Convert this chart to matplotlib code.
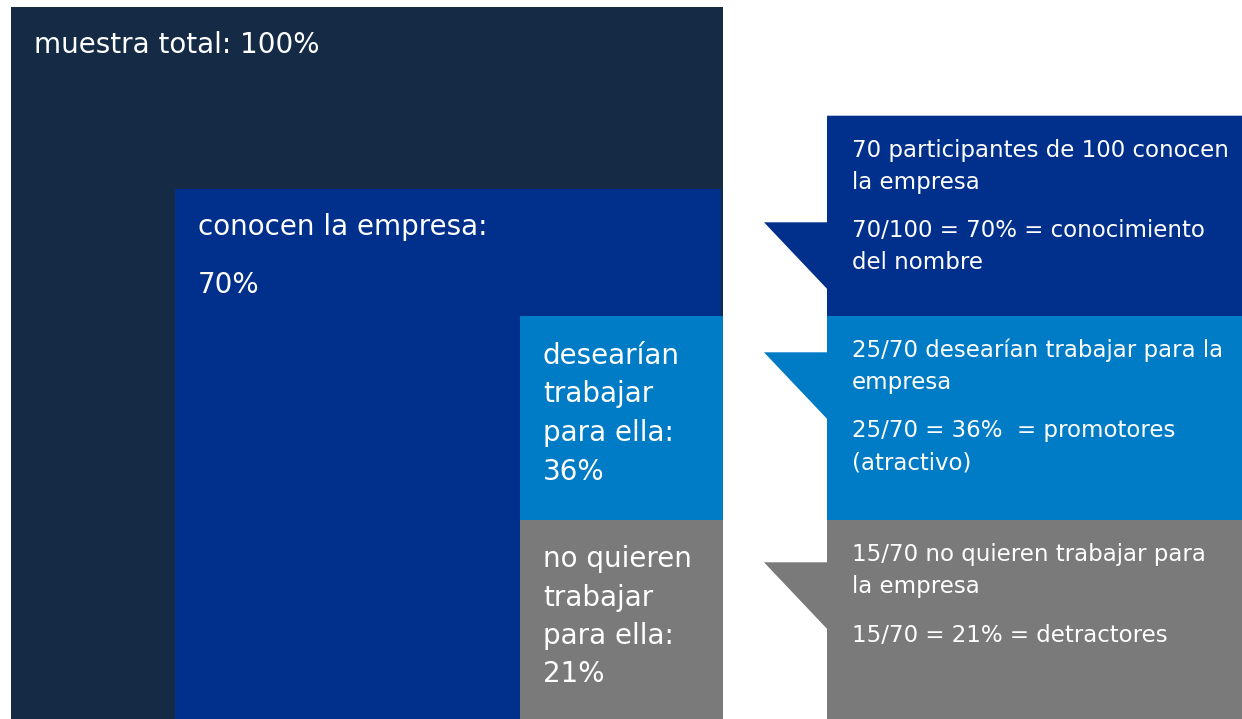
import matplotlib.pyplot as plt
from matplotlib.patches import Rectangle, Polygon

# ---------- values ----------
counts = [100, 70, 25, 15]          # total, know company, promoters, detractors
shares = [100, 70, 36, 21]          # % shown in the nested boxes

box_lines = [
    [f"muestra total: {shares[0]}%"],
    ["conocen la empresa:", f"{shares[1]}%"],
    ["desearían", "trabajar", "para ella:", f"{shares[2]}%"],
    ["no quieren", "trabajar", "para ella:", f"{shares[3]}%"],
]

callout_paras = [
    [[f"{counts[1]} participantes de {counts[0]} conocen", "la empresa"],
     [f"{counts[1]}/{counts[0]} = {shares[1]}% = conocimiento", "del nombre"]],
    [[f"{counts[2]}/{counts[1]} desearían trabajar para la", "empresa"],
     [f"{counts[2]}/{counts[1]} = {shares[2]}%  = promotores", "(atractivo)"]],
    [[f"{counts[3]}/{counts[1]} no quieren trabajar para", "la empresa"],
     [f"{counts[3]}/{counts[1]} = {shares[3]}% = detractores"]],
]

# ---------- style / layout (pixels) ----------
NAVY = "#142a45"
BLUE = "#00308c"
LIGHT = "#007bc6"
GREY = "#7a7a7a"

W, H = 1242, 719

# x0, y0, x1, y1, colour, text x, first baseline, line step
boxes = [
    (11, 7, 723, H, NAVY, 34, 53, 38),
    (175, 189, 721, H, BLUE, 198, 235, 58),
    (520, 316, 723, 520, LIGHT, 543, 364, 38.5),
    (520, 520, 723, H, GREY, 543, 567, 38.5),
]

# top, bottom, pointer y, colour
callouts = [
    (115.7, 316, 222.3, BLUE),
    (316, 520, 352.3, LIGHT),
    (520, H, 562.3, GREY),
]
CX0, CX1, TIP_X, DROP = 827, W, 764, 66.5

plt.rcParams['font.family'] = ['DejaVu Sans']

fig = plt.figure(figsize=(W / 100, H / 100), dpi=100)
ax = fig.add_axes([0, 0, 1, 1])
ax.set_xlim(0, W)
ax.set_ylim(H, 0)
ax.axis("off")

# nested boxes
for (x0, y0, x1, y1, col, tx, by, step), lines in zip(boxes, box_lines):
    ax.add_patch(Rectangle((x0, y0), x1 - x0, y1 - y0, facecolor=col,
                           edgecolor="none"))
    for i, line in enumerate(lines):
        ax.text(tx, by + i * step, line, color="white", fontsize=20,
                ha="left", va="baseline")

# callouts with pointer
for (top, bot, py, col), paras in zip(callouts, callout_paras):
    pts = [(CX0, top), (CX1, top), (CX1, bot), (CX0, bot),
           (CX0, py + DROP), (TIP_X, py), (CX0, py)]
    ax.add_patch(Polygon(pts, closed=True, facecolor=col, edgecolor="none"))
    y = top + 41.5
    for para in paras:
        for line in para:
            ax.text(852, y, line, color="white", fontsize=16.5,
                    ha="left", va="baseline")
            y += 32
        y += 16

fig.savefig("out.png", dpi=100)
